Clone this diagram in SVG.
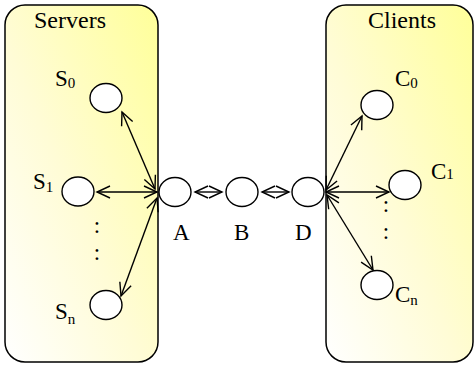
<svg xmlns="http://www.w3.org/2000/svg" width="476" height="365" viewBox="0 0 476 365">
<defs>
<linearGradient id="g" x1="0" y1="1" x2="1" y2="0">
<stop offset="0" stop-color="#ffffff"/>
<stop offset="0.45" stop-color="#fffcd6"/>
<stop offset="1" stop-color="#ffff99"/>
</linearGradient>
<marker id="ah" viewBox="-1 -8 16 16" refX="13" refY="0" markerWidth="16" markerHeight="16" markerUnits="userSpaceOnUse" orient="auto-start-reverse">
<path d="M0,-6 L13,0 L0,6" fill="none" stroke="#000" stroke-width="1.4"/>
</marker>
<style>
.box{fill:url(#g);stroke:#000;stroke-width:1.5}
.n{fill:#fff;stroke:#000;stroke-width:1.4}
.t{font-family:"Liberation Serif",serif;fill:#000}
.big{font-size:24px}
.lb{font-size:23px}
.sub{font-size:15px}
.c{stroke:#000;stroke-width:1.4;fill:none;marker-start:url(#ah);marker-end:url(#ah)}
</style>
</defs>
<g id="servers">
<rect class="box" x="5" y="5" width="153" height="357" rx="20" ry="20"/>
<text class="t big" x="34" y="28">Servers</text>
</g>
<g id="clients">
<rect class="box" x="326" y="5" width="147" height="357" rx="20" ry="20"/>
<text class="t big" x="368" y="28">Clients</text>
</g>
<g id="connectors">
<line class="c" x1="122" y1="112" x2="155" y2="189"/>
<line class="c" x1="97" y1="192" x2="157" y2="192"/>
<line class="c" x1="121" y1="296" x2="157" y2="198"/>
<line class="c" x1="195" y1="192" x2="222" y2="192"/>
<line class="c" x1="262" y1="192" x2="289" y2="192"/>
<line class="c" x1="326" y1="190" x2="362" y2="116"/>
<line class="c" x1="326" y1="192" x2="389" y2="192"/>
<line class="c" x1="327" y1="195" x2="373" y2="270"/>
</g>
<g id="S0"><ellipse class="n" cx="106" cy="98" rx="16" ry="14.5"/><text class="t lb" x="55" y="86">S<tspan class="sub" dy="2">0</tspan></text></g>
<g id="S1"><ellipse class="n" cx="78" cy="191.5" rx="16" ry="14.5"/><text class="t lb" x="33" y="189">S<tspan class="sub" dy="3">1</tspan></text></g>
<g id="Sn"><ellipse class="n" cx="106" cy="305" rx="16" ry="14.5"/><text class="t lb" x="55" y="319">S<tspan class="sub" dy="5">n</tspan></text></g>
<g id="A"><ellipse class="n" cx="175" cy="192" rx="16" ry="14.5"/><text class="t lb" x="173" y="240">A</text></g>
<g id="B"><ellipse class="n" cx="242" cy="192" rx="16" ry="14.5"/><text class="t lb" x="234" y="240">B</text></g>
<g id="D"><ellipse class="n" cx="308" cy="192" rx="16" ry="14.5"/><text class="t lb" x="295" y="240">D</text></g>
<g id="C0"><ellipse class="n" cx="377" cy="105" rx="16" ry="14.5"/><text class="t lb" x="395" y="86">C<tspan class="sub" dy="2">0</tspan></text></g>
<g id="C1"><ellipse class="n" cx="405" cy="185" rx="16" ry="14.5"/><text class="t lb" x="431" y="179">C<tspan class="sub" dy="0">1</tspan></text></g>
<g id="Cn"><ellipse class="n" cx="377" cy="285" rx="16" ry="14.5"/><text class="t lb" x="395" y="302">C<tspan class="sub" dy="3">n</tspan></text></g>
<g id="dots">
<text class="t lb" x="97" y="233" text-anchor="middle">:</text>
<text class="t lb" x="97" y="260" text-anchor="middle">:</text>
<text class="t lb" x="386" y="212" text-anchor="middle">:</text>
<text class="t lb" x="386" y="239" text-anchor="middle">:</text>
</g>
</svg>
